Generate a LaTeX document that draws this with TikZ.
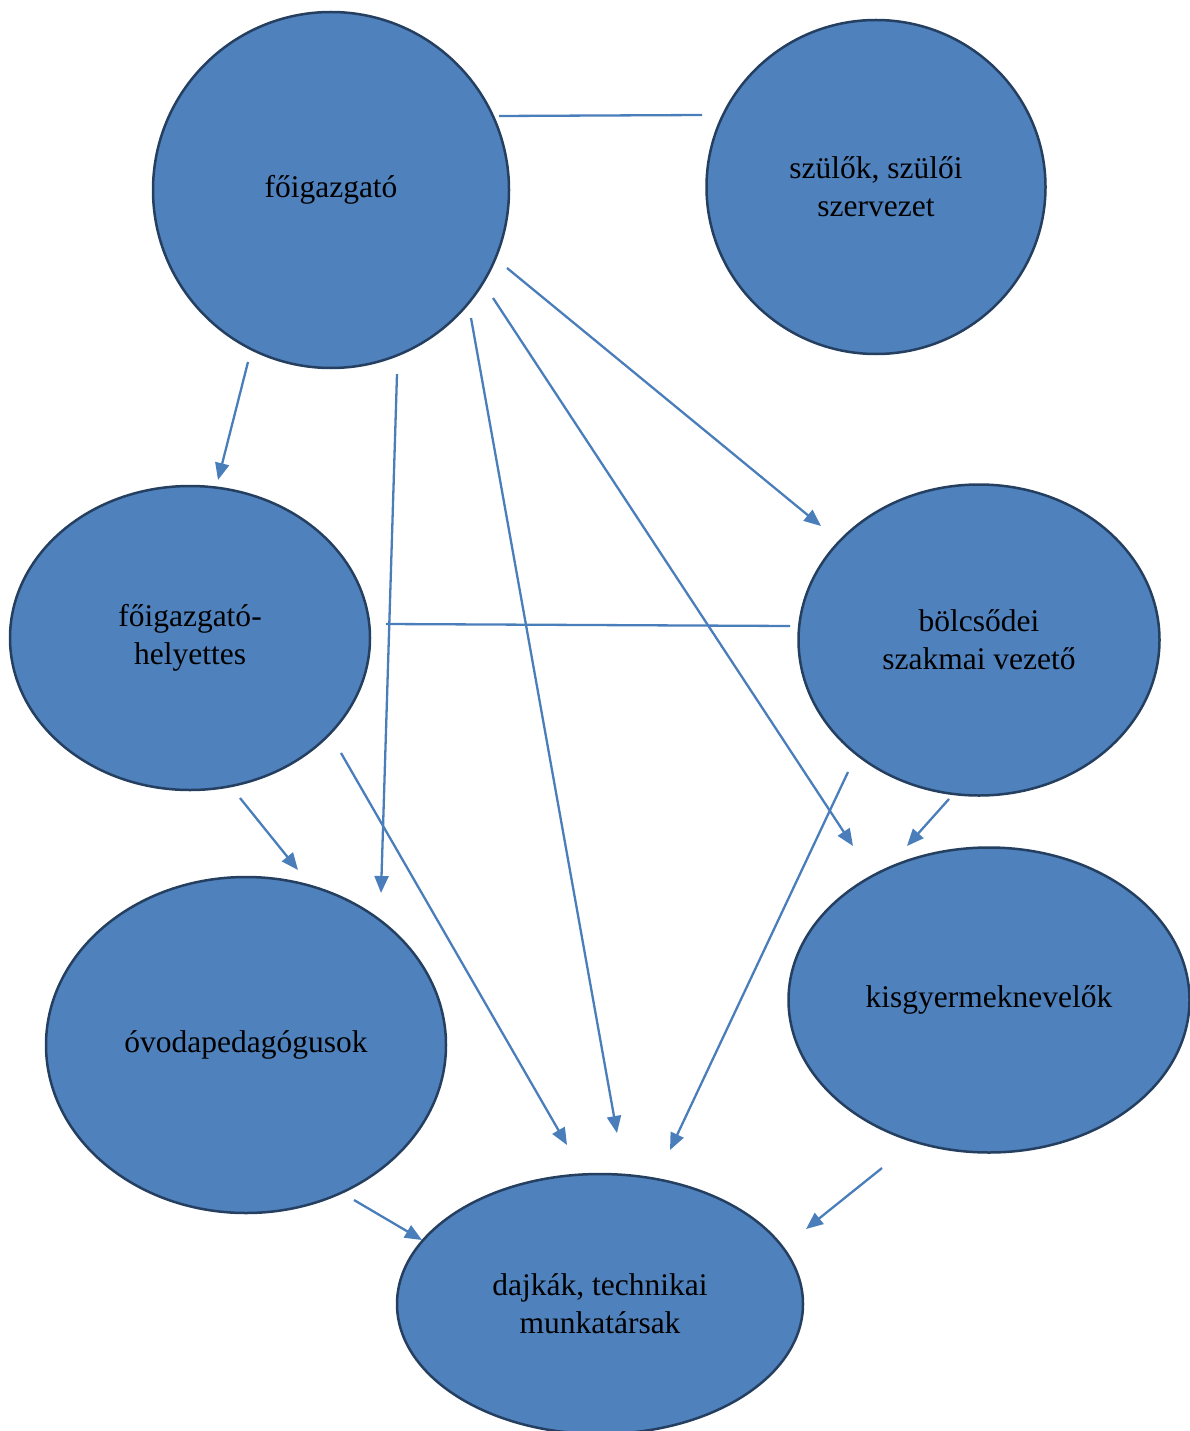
\documentclass[tikz,border=0pt]{standalone}
\usepackage{fontspec}
\setmainfont{Liberation Serif}
\usetikzlibrary{shapes.geometric,arrows.meta}
\definecolor{fillblue}{HTML}{4F81BD}
\definecolor{edgeblue}{HTML}{243F60}
\definecolor{lineblue}{HTML}{4A7EBB}
\begin{document}
\begin{tikzpicture}[x=1pt,y=-1pt,
  bubble/.style={ellipse,draw=edgeblue,fill=fillblue,line width=2.5pt,inner sep=0pt,
    font=\fontsize{31.5}{38}\selectfont,align=center,text=black},
  link/.style={draw=lineblue,line width=2.3pt},
  arr/.style={link,-{Triangle[length=17pt,width=14pt]}}]
\useasboundingbox (0,0) rectangle (1190,1431);
\node[bubble,minimum width=356pt,minimum height=356pt] (fo) at (331,190) {főigazgató};
\node[bubble,minimum width=339pt,minimum height=334pt] (szu) at (876,187) {szülők, szülői\\szervezet};
\node[bubble,minimum width=360pt,minimum height=304pt] (hely) at (190,638) {főigazgató-\\helyettes};
\node[bubble,minimum width=361pt,minimum height=311pt] (bol) at (979,640) {bölcsődei\\szakmai vezető};
\node[bubble,minimum width=400pt,minimum height=336pt] (ovo) at (246,1045) {óvodapedagógusok};
\node[bubble,minimum width=401pt,minimum height=305pt] (kis) at (989,1000) {kisgyermeknevelők};
\node[bubble,minimum width=406pt,minimum height=260pt] (daj) at (600,1304) {dajkák, technikai\\munkatársak};
% free ends
\coordinate (l1a) at (499,116); \coordinate (l1b) at (702,115);
\coordinate (a1s) at (248,362); \coordinate (a1e) at (218,480);
\coordinate (a2s) at (397,374); \coordinate (a2e) at (381,893);
\coordinate (a3s) at (471,318); \coordinate (a3e) at (617,1133);
\coordinate (a4s) at (493,298); \coordinate (a4e) at (853,846);
\coordinate (a5s) at (507,268); \coordinate (a5e) at (821,526);
\coordinate (l2a) at (386,624); \coordinate (l2b) at (790,626);
\coordinate (a6s) at (341,753); \coordinate (a6e) at (567,1145);
\coordinate (a7s) at (240,798); \coordinate (a7e) at (298,870);
\coordinate (a8s) at (848,772); \coordinate (a8e) at (670,1150);
\coordinate (a9s) at (949,799); \coordinate (a9e) at (907,846);
\coordinate (a10s) at (354,1200); \coordinate (a10e) at (422,1240);
\coordinate (a11s) at (882,1168); \coordinate (a11e) at (806,1229);
\draw[link] (l1a) -- (l1b);
\draw[link] (l2a) -- (l2b);
\draw[arr] (a1s) -- (a1e);
\draw[arr] (a2s) -- (a2e);
\draw[arr] (a3s) -- (a3e);
\draw[arr] (a4s) -- (a4e);
\draw[arr] (a5s) -- (a5e);
\draw[arr] (a6s) -- (a6e);
\draw[arr] (a7s) -- (a7e);
\draw[arr] (a8s) -- (a8e);
\draw[arr] (a9s) -- (a9e);
\draw[arr] (a10s) -- (a10e);
\draw[arr] (a11s) -- (a11e);
\end{tikzpicture}
\end{document}
